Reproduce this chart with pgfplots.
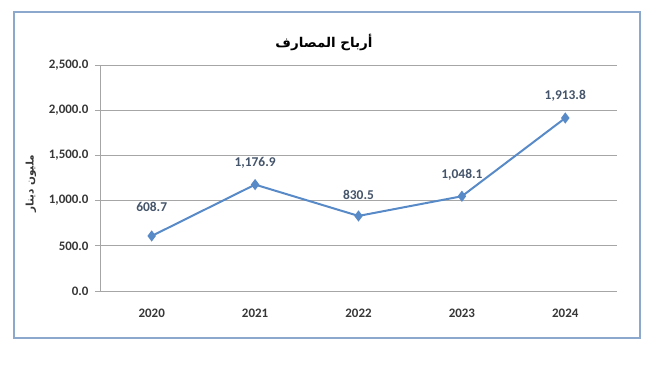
\documentclass[border=0pt]{standalone}
\usepackage{pgfplots}
\pgfplotsset{compat=1.18}
\usepackage{fontspec}
\setmainfont{Carlito}
\newfontfamily\arabicfont[Script=Arabic]{DejaVu Sans}
\TeXXeTstate=1
\definecolor{linec}{RGB}{88,138,200}
\definecolor{gridc}{RGB}{166,166,166}
\definecolor{tickc}{RGB}{55,55,55}
\definecolor{labc}{RGB}{68,84,106}
\definecolor{boxc}{RGB}{140,168,204}
\begin{document}
\begin{tikzpicture}
\useasboundingbox (0,0) rectangle (652bp,367bp);
\draw[boxc, line width=1.2bp] (14bp,29bp) rectangle (640bp,355bp);
\node[font=\arabicfont\bfseries\fontsize{13.5}{15}\selectfont, text=black] at (324bp,325bp) {\beginR أرباح المصارف\endR};
\node[rotate=90, font=\arabicfont\bfseries\fontsize{10.5}{12}\selectfont, text=tickc] at (31bp,183bp) {\beginR مليون دينار\endR};
\begin{axis}[
  at={(100bp,76bp)}, anchor=south west,
  scale only axis, width=517bp, height=226bp,
  xmin=-0.5, xmax=4.5, ymin=0, ymax=2500,
  xtick={0,1,2,3,4}, xticklabels={2020,2021,2022,2023,2024},
  ytick={0,500,1000,1500,2000,2500},
  axis x line*=bottom, axis y line*=left,
  axis line style={gridc, line width=0.9bp, -},
  ymajorgrids, major grid style={gridc, line width=0.9bp},
  x tick style={draw=none},
  y tick style={gridc, line width=0.9bp},
  tick align=outside, major tick length=5bp,
  ticklabel style={font=\bfseries\fontsize{13}{15}\selectfont, text=tickc},
  /pgf/number format/assume math mode=true,
  y tick label style={/pgf/number format/fixed, /pgf/number format/fixed zerofill, /pgf/number format/precision=1, /pgf/number format/1000 sep={,}, xshift=-3bp},
  xtick pos=bottom, ytick pos=left,
  x tick label style={yshift=-9bp},
  clip=false,
]
\addplot[linec, line width=2bp, mark=diamond*, mark size=4bp, mark options={fill=linec, draw=linec},
  point meta=explicit symbolic, nodes near coords,
  nodes near coords style={font=\bfseries\fontsize{13.5}{15}\selectfont, text=labc, anchor=south, yshift=12bp},
] coordinates {(0,608.7) [] (1,1176.9) [1,176.9] (2,830.5) [830.5] (3,1048.1) [1,048.1] (4,1913.8) [1,913.8]};
\addplot[draw=none, mark=none, point meta=explicit symbolic, nodes near coords,
  nodes near coords style={font=\bfseries\fontsize{13.5}{15}\selectfont, text=labc, anchor=south, yshift=21bp},
] coordinates {(0,608.7) [608.7]};
\end{axis}
\end{tikzpicture}
\end{document}
